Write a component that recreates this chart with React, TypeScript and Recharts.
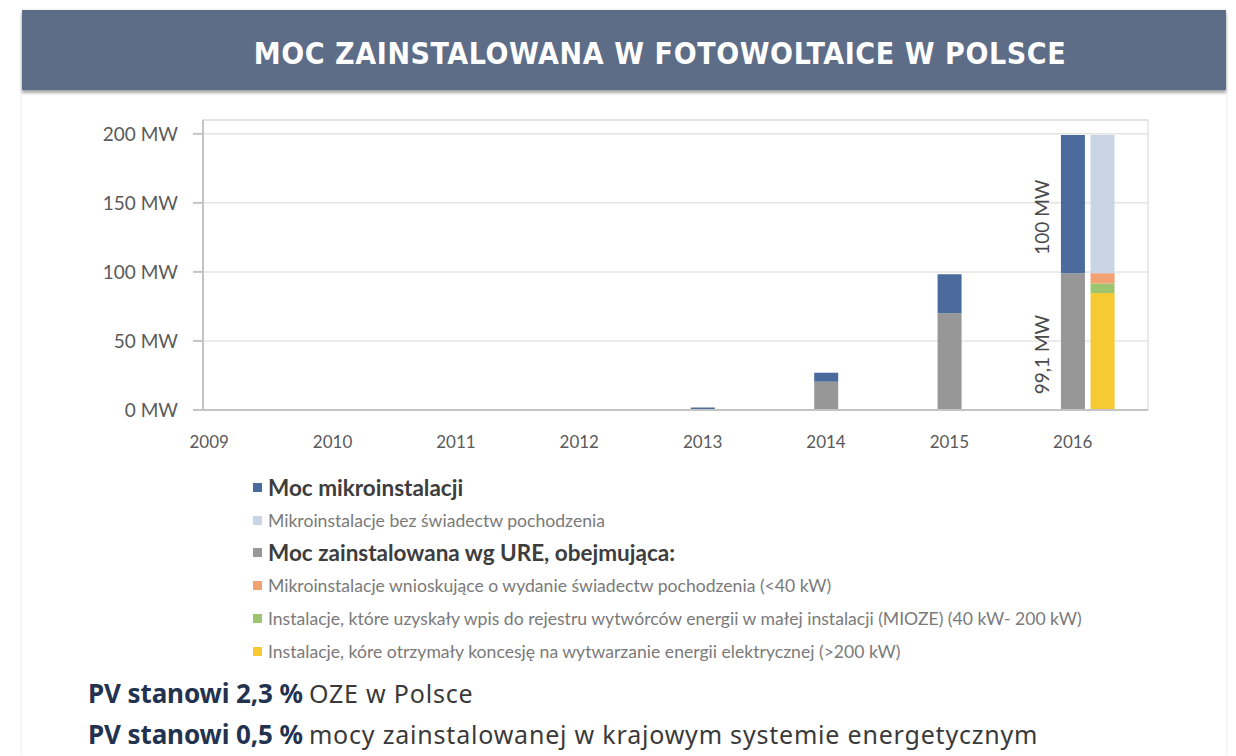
import { BarChart, Bar, XAxis, YAxis, CartesianGrid, ReferenceArea, LabelList } from "recharts";

// ── data ────────────────────────────────────────────────────────────────────
const years = [2009, 2010, 2011, 2012, 2013, 2014, 2015, 2016];
const urePower = [0, 0, 0, 0, 0.6, 20.5, 70, 99.1]; // Moc zainstalowana wg URE
const microPower = [0, 0, 0, 0, 1.2, 6.5, 28.3, 100]; // Moc mikroinstalacji
const labelYear = 2016; // only this year's stack carries the value labels

// breakdown bar drawn just right of 2016
const splitX = 2016.24;
const splitYellow = 84.7; // koncesja (>200 kW)
const splitGreen = 7.0; // MIOZE (40-200 kW)
const splitOrange = 7.4; // wnioskujące o świadectwa (<40 kW)
const splitLight = 100; // bez świadectw pochodzenia

const yTicks = [0, 50, 100, 150, 200];

const C = {
  blue: "#4a6b9c",
  light: "#c9d4e4",
  gray: "#979797",
  orange: "#f2a172",
  green: "#9dc46f",
  yellow: "#f7c933",
};

const legendItems = [
  { label: "Moc mikroinstalacji", color: C.blue, bold: true },
  { label: "Mikroinstalacje bez świadectw pochodzenia", color: C.light, bold: false },
  { label: "Moc zainstalowana wg URE, obejmująca:", color: C.gray, bold: true },
  { label: "Mikroinstalacje wnioskujące o wydanie świadectw pochodzenia (<40 kW)", color: C.orange, bold: false },
  { label: "Instalacje, które uzyskały wpis do rejestru wytwórców energii w małej instalacji (MIOZE) (40 kW- 200 kW)", color: C.green, bold: false },
  { label: "Instalacje, kóre otrzymały koncesję na wytwarzanie energii elektrycznej (>200 kW)", color: C.yellow, bold: false },
];

const notes = [
  { strong: "PV stanowi 2,3 %", rest: "OZE w Polsce" },
  { strong: "PV stanowi 0,5 %", rest: "mocy zainstalowanej w krajowym systemie energetycznym" },
];

const data: any[] = years.map((y, i) => ({
  x: y,
  ure: urePower[i],
  micro: microPower[i],
  ureLabel: y === labelYear ? urePower[i] : null,
  microLabel: y === labelYear ? microPower[i] : null,
}));
data.push({ x: splitX, yellow: splitYellow, green: splitGreen, orange: splitOrange, light: splitLight });

const FONT = "Lato, 'Open Sans', sans-serif";

// rotated value label to the left of the bar segment
const sideLabel = (props: any) => {
  const { value } = props;
  if (value == null || value === "") return null;
  const vb = props.viewBox && props.viewBox.x != null ? props.viewBox : props;
  const { x, y, height } = vb;
  if (x == null) return null;
  const cx = x - 19;
  const cy = y + height / 2 + 13;
  return (
    <text x={cx} y={cy} transform={`rotate(-90 ${cx} ${cy})`} textAnchor="middle" dominantBaseline="central"
      fontSize={19} fill="#4a4a4a" fontFamily={FONT}>
      {`${String(value).replace(".", ",")} MW`}
    </text>
  );
};

export default function App() {
  return (
    <div style={{ position: "absolute", left: 0, top: 0, width: 1236, height: 756, background: "#fff", overflow: "hidden" }}>
      {/* panel */}
      <div style={{ position: "absolute", left: 22, top: 10, width: 1204, height: 746, background: "#fff", boxShadow: "0 0 3px rgba(0,0,0,0.12)" }} />
      {/* header */}
      <div style={{
        position: "absolute", left: 22, top: 10, width: 1204, height: 80, background: "#5d6c87",
        boxShadow: "0 3px 3px rgba(0,0,0,0.35)", display: "flex", alignItems: "center", justifyContent: "center",
      }}>
        <span style={{ color: "#fff", fontFamily: "'DejaVu Sans Condensed', 'DejaVu Sans', sans-serif", fontWeight: 700, fontSize: 30, marginLeft: 72, marginTop: 6, letterSpacing: 0.6 }}>
          MOC ZAINSTALOWANA W FOTOWOLTAICE W POLSCE
        </span>
      </div>

      <div style={{ position: "absolute", left: 0, top: 0 }}>
        <BarChart width={1236} height={470} data={data} margin={{ top: 120, right: 88, bottom: 30, left: 103 }}>
          <CartesianGrid horizontal vertical={false} stroke="#e4e4e4" strokeWidth={1.5} />
          <ReferenceArea x1={2008.95} x2={2016.61} y1={0} y2={210} fill="none" stroke="#e2e2e2" strokeWidth={1.5} ifOverflow="visible" />
          <XAxis
            dataKey="x" type="number" domain={[2008.95, 2016.61]} ticks={years} allowDataOverflow
            tickLine={false} axisLine={{ stroke: "#c4c4c4", strokeWidth: 2 }} tickMargin={20}
            tick={{ fontSize: 17, fill: "#5a5a5a", fontFamily: FONT }}
          />
          <YAxis
            width={100} domain={[0, 210]} ticks={yTicks} allowDataOverflow
            tickFormatter={(v) => `${v} MW`} tickSize={10} tickMargin={15}
            tickLine={{ stroke: "#c4c4c4", strokeWidth: 2 }} axisLine={{ stroke: "#c4c4c4", strokeWidth: 2 }}
            tick={{ fontSize: 19, fill: "#5a5a5a", fontFamily: FONT }}
          />
          <Bar dataKey="ure" stackId="s" fill={C.gray} barSize={24} isAnimationActive={false}>
            <LabelList dataKey="ureLabel" content={sideLabel} />
          </Bar>
          <Bar dataKey="micro" stackId="s" fill={C.blue} barSize={24} isAnimationActive={false}>
            <LabelList dataKey="microLabel" content={sideLabel} />
          </Bar>
          <Bar dataKey="yellow" stackId="s" fill={C.yellow} barSize={24} isAnimationActive={false} />
          <Bar dataKey="green" stackId="s" fill={C.green} barSize={24} isAnimationActive={false} />
          <Bar dataKey="orange" stackId="s" fill={C.orange} barSize={24} isAnimationActive={false} />
          <Bar dataKey="light" stackId="s" fill={C.light} barSize={24} isAnimationActive={false} />
        </BarChart>
      </div>

      {/* legend */}
      <div style={{ position: "absolute", left: 253, top: 471, fontFamily: FONT }}>
        {legendItems.map((it, i) => (
          <div key={i} style={{ display: "flex", alignItems: "center", height: 32.8 }}>
            <span style={{ width: 9, height: 9, background: it.color, marginRight: 6, flex: "none" }} />
            <span style={{ fontSize: it.bold ? 22.5 : 17.6, fontWeight: it.bold ? 700 : 400, color: it.bold ? "#3d3d3d" : "#7a7a7a", whiteSpace: "nowrap" }}>
              {it.label}
            </span>
          </div>
        ))}
      </div>

      {/* notes */}
      <div style={{ position: "absolute", left: 88, top: 672, fontFamily: "'Noto Sans', sans-serif" }}>
        {notes.map((n, i) => (
          <div key={i} style={{ height: 41, display: "flex", alignItems: "center", whiteSpace: "nowrap" }}>
            <span style={{ fontWeight: 700, fontSize: 26, color: "#22324f", letterSpacing: -0.1 }}>{n.strong}</span>
            <span style={{ fontSize: 25, color: "#3a3a3a", marginLeft: 6, letterSpacing: 0.8 }}>{n.rest}</span>
          </div>
        ))}
      </div>
    </div>
  );
}
